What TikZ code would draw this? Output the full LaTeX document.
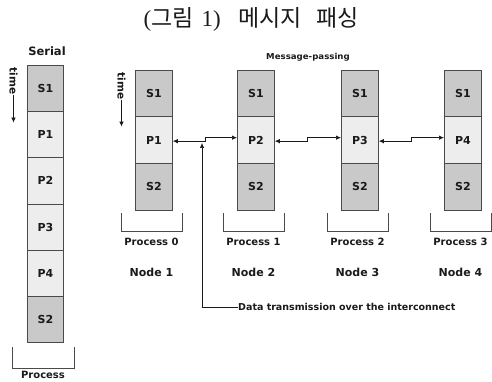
\documentclass[tikz,border=0pt]{standalone}
\usepackage{fontspec}
\setmainfont{Liberation Serif}
\newfontfamily\cjk{Noto Sans CJK KR}
\newfontfamily\vsans{DejaVu Sans}
\usetikzlibrary{arrows.meta,calc}
\definecolor{sgrey}{HTML}{C9C9C9}
\definecolor{plight}{HTML}{EDEDED}
\definecolor{edge}{HTML}{4A4A4A}
\definecolor{ink}{HTML}{1A1A1A}
\begin{document}
\begin{tikzpicture}[x=1pt,y=-1pt,
  cell/.style={draw=edge, line width=0.8pt, minimum width=37pt, minimum height=46.5pt,
    inner sep=0pt, anchor=north west, text=ink,
    font=\vsans\bfseries\fontsize{11}{11}\selectfont},
  scell/.style={cell, fill=sgrey},
  pcell/.style={cell, fill=plight},
  sercell/.style={minimum width=36pt, minimum height=46.2pt},
  lbl/.style={text=ink, inner sep=0pt, font=\vsans\bfseries\fontsize{10}{10}\selectfont},
  nodelbl/.style={text=ink, inner sep=0pt, font=\vsans\bfseries\fontsize{11}{11}\selectfont},
  bracket/.style={draw=edge, line width=0.8pt},
  link/.style={draw=ink, line width=0.7pt, {Latex[length=5pt,width=4.5pt]}-{Latex[length=5pt,width=4.5pt]}},
  pointer/.style={draw=ink, line width=0.7pt, -{Latex[length=5pt,width=4.5pt]}},
]
\useasboundingbox (0,0) rectangle (492,382);

% title
\node[text=ink, inner sep=0pt, font=\fontsize{23}{23}\selectfont] (title) at (251,19)
  {({\cjk 그림}\hspace{8pt}1)\hspace{18pt}{\cjk 메시지}\hspace{14pt}{\cjk 패싱}};

% serial execution
\node[lbl, font=\vsans\bfseries\fontsize{11.5}{11.5}\selectfont] (serial) at (47,51) {Serial};
\node[scell, sercell] (ss1) at (27,65) {S1};
\node[pcell, sercell] (sp1) at (27,111.2) {P1};
\node[pcell, sercell] (sp2) at (27,157.4) {P2};
\node[pcell, sercell] (sp3) at (27,203.6) {P3};
\node[pcell, sercell] (sp4) at (27,249.8) {P4};
\node[scell, sercell] (ss2) at (27,296) {S2};
\draw[bracket] (12,347) |- (74,368) -- (74,347);
\node[lbl] (sproc) at (43,375) {Process};

\node[lbl, rotate=-90, font=\vsans\bfseries\fontsize{10.5}{10.5}\selectfont] (time0) at (13.5,81) {time};
\draw[pointer] (time0.east) -- ++(0,28);

% message passing
\node[inner sep=0pt, text=ink, font=\vsans\bfseries\fontsize{8.2}{8.2}\selectfont,
  xscale=1.05] (mp) at (308,57) {Message-passing};
\node[lbl, rotate=-90, font=\vsans\bfseries\fontsize{10.5}{10.5}\selectfont] (time1) at (121.5,86) {time};
\draw[pointer] (time1.east) -- ++(0,27);

\foreach \i/\x/\pn in {0/135/1, 1/237/2, 2/341/3, 3/444/4} {
  \node[scell] (s1-\i) at (\x,70) {S1};
  \node[pcell] (p-\i) at (\x,116.5) {P\pn};
  \node[scell] (s2-\i) at (\x,163) {S2};
  \draw[bracket] (\x-14,213) |- (\x+47,231) -- (\x+47,213);
  \node[lbl] (proc-\i) at (\x+16.5,242) {Process \i};
  \node[nodelbl] (node-\i) at (\x+16.5,272) {Node \pn};
}

% links between neighbouring processes
\foreach \a/\b in {0/1, 1/2, 2/3} {
  \draw[link] ([yshift=-1pt]p-\a.east) -- ++(33,0) |- ([yshift=2.5pt]p-\b.west);
}

% interconnect annotation
\node[lbl, anchor=west, font=\vsans\bfseries\fontsize{9.5}{9.5}\selectfont] (dt) at (238,307)
  {Data transmission over the interconnect};
\coordinate (tip) at (202,143);
\draw[pointer] (dt.west) -| (tip);
\end{tikzpicture}
\end{document}
